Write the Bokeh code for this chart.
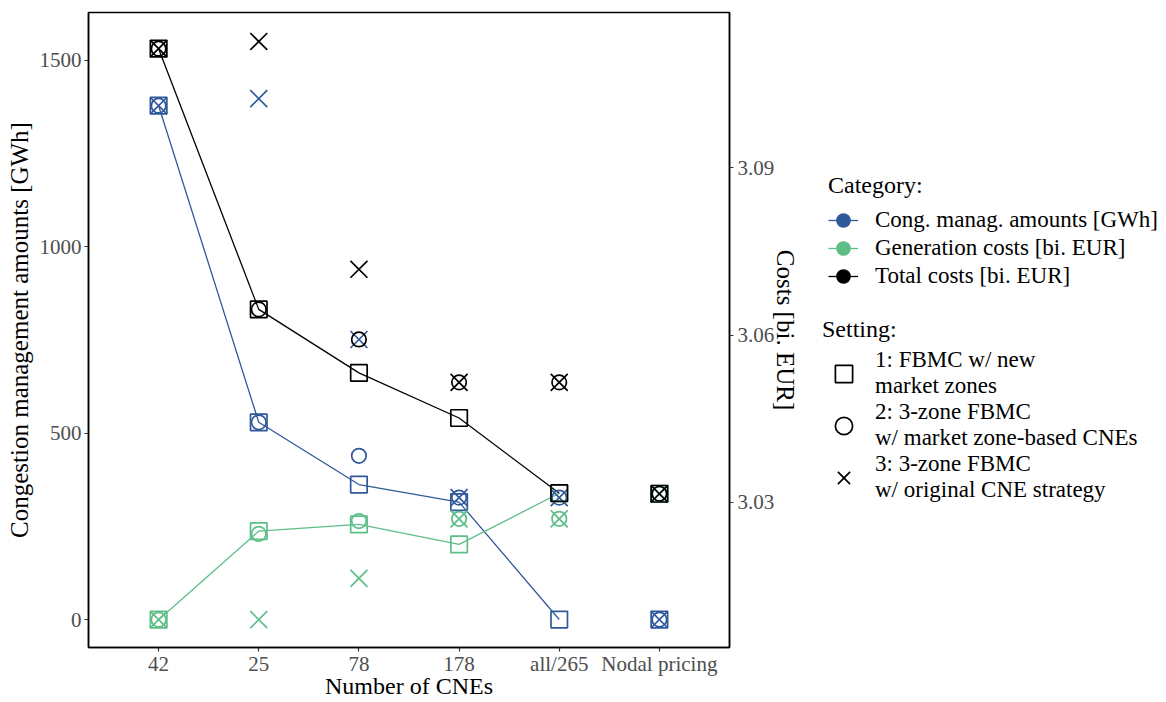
from bokeh.plotting import figure
from bokeh.models import (FactorRange, Range1d, LinearAxis, FixedTicker, Legend,
                          LegendItem)
from bokeh.layouts import row
from bokeh.embed import file_html
from bokeh.resources import INLINE

# ---------------- data ----------------
cnes = ["42", "25", "78", "178", "all/265", "Nodal pricing"]

# Congestion management amounts [GWh] (left axis)
cm_s1 = [1378, 529, 362, 315, 0, 0]
cm_s2 = [1378, 529, 439, 327, 327, 0]
cm_s3 = [1378, 1397, 751, 327, 327, 0]

# Generation costs [bi. EUR] (right axis)
gen_s1 = [3.0089, 3.0248, 3.0260, 3.0224, 3.0316, 3.0315]
gen_s2 = [3.0089, 3.0243, 3.0266, 3.0270, 3.0270, 3.0315]
gen_s3 = [3.0089, 3.0089, 3.0163, 3.0270, 3.0270, 3.0315]

# Total costs [bi. EUR] (right axis)
tot_s1 = [3.1114, 3.0646, 3.0532, 3.0451, 3.0316, 3.0315]
tot_s2 = [3.1114, 3.0646, 3.0592, 3.0515, 3.0515, 3.0315]
tot_s3 = [3.1114, 3.1127, 3.0718, 3.0515, 3.0515, 3.0315]

categories = ["Cong. manag. amounts [GWh]", "Generation costs [bi. EUR]", "Total costs [bi. EUR]"]
settings = ["1: FBMC w/ new\nmarket zones",
            "2: 3-zone FBMC\nw/ market zone-based CNEs",
            "3: 3-zone FBMC\nw/ original CNE strategy"]
left_ticks = [0, 500, 1000, 1500]
right_ticks = [3.03, 3.06, 3.09]

# ---------------- style ----------------
BLUE = "#30599A"
GREEN = "#5DBE88"
BLACK = "#000000"
FONT = "Liberation Serif"
TICK_COL = "#4D4D4D"

p = figure(width=809, height=702,
           x_range=FactorRange(*cnes, range_padding=0.2, range_padding_units="absolute"),
           y_range=Range1d(-75, 1628),
           output_backend="svg", toolbar_location=None,
           min_border_left=88, min_border_right=80, min_border_top=12, min_border_bottom=55)
p.extra_y_ranges = {"cost": Range1d(3.0039, 3.1179)}

p.xgrid.visible = False
p.ygrid.visible = False
p.outline_line_color = "black"
p.outline_line_width = 1.5
p.background_fill_color = "white"
p.border_fill_color = "white"

series = [
    (BLUE, "default", cm_s1, cm_s2, cm_s3),
    (GREEN, "cost", gen_s1, gen_s2, gen_s3),
    (BLACK, "cost", tot_s1, tot_s2, tot_s3),
]
for col, rng, s1, s2, s3 in series:
    p.line(x=cnes[:5], y=s1[:5], line_color=col, line_width=1.3, y_range_name=rng)
for col, rng, s1, s2, s3 in series:
    p.scatter(x=cnes, y=s1, marker="square", size=16.5, fill_color=None,
              line_color=col, line_width=1.7, y_range_name=rng)
    p.scatter(x=cnes, y=s2, marker="circle", size=14.5, fill_color=None,
              line_color=col, line_width=1.7, y_range_name=rng)
    p.scatter(x=cnes, y=s3, marker="x", size=24, fill_color=None,
              line_color=col, line_width=1.7, y_range_name=rng)

def style_axis(ax):
    ax.axis_line_color = "black"
    ax.axis_line_width = 1.5
    ax.major_tick_line_color = "#333333"
    ax.major_tick_line_width = 1.2
    ax.major_tick_in = 0
    ax.major_tick_out = 4
    ax.minor_tick_line_color = None
    ax.major_label_text_font = FONT
    ax.major_label_text_font_size = "21px"
    ax.major_label_text_color = TICK_COL
    ax.axis_label_text_font = FONT
    ax.axis_label_text_font_size = "25px"
    ax.axis_label_text_font_style = "normal"
    ax.axis_label_text_color = "black"

p.xaxis.axis_label = "Number of CNEs"
p.yaxis.axis_label = "Congestion management amounts [GWh]"
p.yaxis.ticker = FixedTicker(ticks=left_ticks)
style_axis(p.xaxis[0])
style_axis(p.yaxis[0])
p.xaxis.axis_label_text_font_size = "24px"
p.xaxis.major_label_standoff = 0
p.xaxis.axis_label_standoff = -6
p.yaxis.major_label_standoff = 3
p.yaxis.axis_label_standoff = 4

rax = LinearAxis(y_range_name="cost", axis_label="Costs [bi. EUR]",
                 ticker=FixedTicker(ticks=right_ticks))
style_axis(rax)
rax.major_label_standoff = 4
rax.axis_label_standoff = -5
p.add_layout(rax, "right")

# ---------------- legend panel ----------------
lf = figure(width=357, height=702, x_range=Range1d(0, 1), y_range=Range1d(0, 1),
            toolbar_location=None, output_backend="svg",
            x_axis_type=None, y_axis_type=None, min_border=0,
            outline_line_color=None)
lf.grid.visible = False

cat_items = []
for col, name in zip([BLUE, GREEN, BLACK], categories):
    rl = lf.line(x=[-5, -4], y=[-5, -4], line_color=col, line_width=1.3)
    rp = lf.scatter(x=[-5], y=[-5], marker="circle", fill_color=col, line_color=col, line_width=3.5)
    cat_items.append(LegendItem(label=name, renderers=[rl, rp]))

set_items = []
for mk, name in zip(["square", "circle", "x"], settings):
    rs = lf.scatter(x=[-5], y=[-5], marker=mk, fill_color=None, line_color="black", line_width=1.7)
    set_items.append(LegendItem(label=name, renderers=[rs]))

def style_legend(lg):
    lg.border_line_color = None
    lg.background_fill_alpha = 0
    lg.padding = 0
    lg.margin = 0
    lg.spacing = 0
    lg.title_text_font = FONT
    lg.title_text_font_size = "24px"
    lg.title_text_font_style = "normal"
    lg.title_text_color = "black"
    lg.label_text_font = FONT
    lg.label_text_font_size = "23px"
    lg.label_text_color = "black"

leg1 = Legend(items=cat_items, title="Category:", location=(19, 357))
style_legend(leg1)
leg1.glyph_width = 30
leg1.glyph_height = 28
leg1.label_height = 28
leg1.label_standoff = 17
leg1.title_standoff = 7
lf.add_layout(leg1)

leg2 = Legend(items=set_items, title="Setting:", location=(13, 144))
style_legend(leg2)
leg2.glyph_width = 43
leg2.glyph_height = 43
leg2.label_height = 43
leg2.label_standoff = 10
leg2.title_standoff = 4
lf.add_layout(leg2)

layout = row(p, lf)
open("out.html", "w").write(file_html(layout, INLINE))
